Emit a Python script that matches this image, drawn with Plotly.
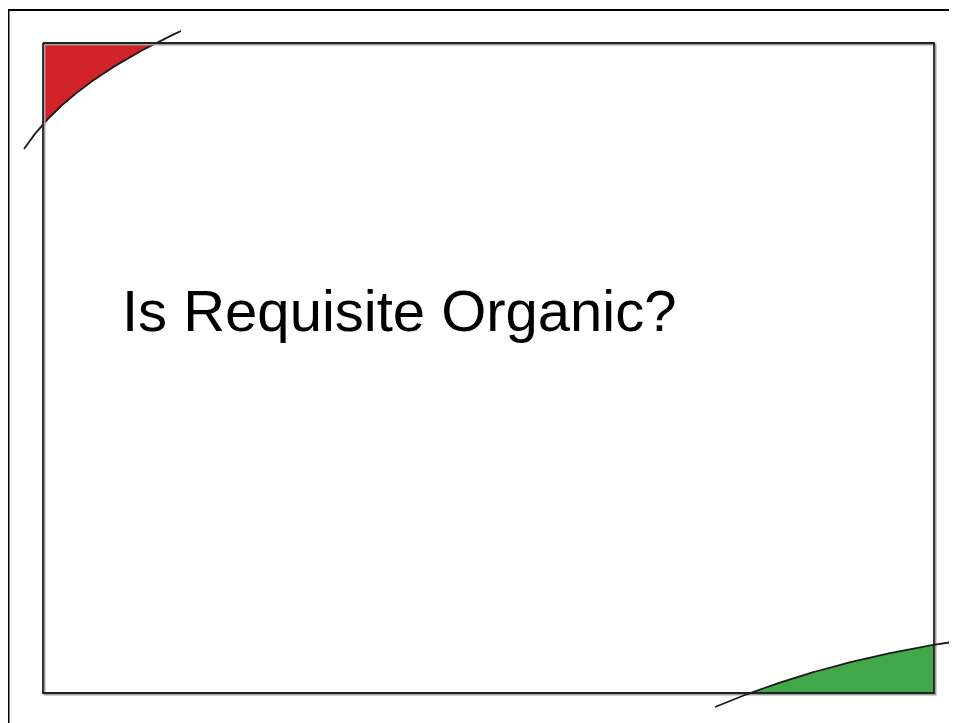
import numpy as np
import plotly.graph_objects as go

# Slide content
title_text = "Is Requisite Organic?"

# Outer frame (open at right/bottom edges of the page)
outer_x = [8.5, 8.5, 980]
outer_y = [740, 10, 10]

# Inner frame rectangle
inner_x = [43, 934, 934, 43, 43]
inner_y = [43, 43, 693, 693, 43]

# Red corner curve (top-left): start, control, end of a quadratic curve
red_curve_x = [24, 67, 181]
red_curve_y = [149, 83, 31]

# Green corner curve (bottom-right)
green_curve_x = [715, 822.5, 952]
green_curve_y = [707, 661.5, 642]

RED = "#D2232A"
GREEN = "#41A84A"

PAGE_OFFSET = 8  # browser body margin


def bezier(px, py, n=400):
    t = np.linspace(0, 1, n)
    x = (1 - t) ** 2 * px[0] + 2 * (1 - t) * t * px[1] + t ** 2 * px[2]
    y = (1 - t) ** 2 * py[0] + 2 * (1 - t) * t * py[1] + t ** 2 * py[2]
    return x, y


fig = go.Figure()

# red fill
bx, by = bezier(red_curve_x, red_curve_y)
m = (bx >= inner_x[0]) & (by >= inner_y[0])
rx = [inner_x[0]] + list(bx[m]) + [inner_x[0]]
ry = [inner_y[0]] + list(by[m]) + [inner_y[0]]
fig.add_trace(go.Scatter(x=rx, y=ry, mode="lines", fill="toself", fillcolor=RED,
                         line=dict(width=0, color=RED), hoverinfo="skip"))
fig.add_trace(go.Scatter(x=bx, y=by, mode="lines",
                         line=dict(width=1.8, color="#1a1a1a"), hoverinfo="skip"))

# green fill
gx_, gy_ = bezier(green_curve_x, green_curve_y)
m = (gx_ <= inner_x[1]) & (gy_ <= inner_y[2])
gx = [inner_x[1]] + list(gx_[m]) + [inner_x[1]]
gy = [inner_y[2]] + list(gy_[m]) + [inner_y[2]]
fig.add_trace(go.Scatter(x=gx, y=gy, mode="lines", fill="toself", fillcolor=GREEN,
                         line=dict(width=0, color=GREEN), hoverinfo="skip"))

# inner frame shadow + line
fig.add_trace(go.Scatter(x=[v + 1.5 for v in inner_x], y=[v + 1.5 for v in inner_y], mode="lines",
                         line=dict(width=2, color="#a0a0a0"), hoverinfo="skip"))
fig.add_trace(go.Scatter(x=inner_x, y=inner_y, mode="lines",
                         line=dict(width=1.8, color="#222222"), hoverinfo="skip"))

fig.add_trace(go.Scatter(x=gx_, y=gy_, mode="lines",
                         line=dict(width=1.8, color="#1a1a1a"), hoverinfo="skip"))

# outer frame
fig.add_trace(go.Scatter(x=outer_x, y=outer_y, mode="lines",
                         line=dict(width=2, color="#000000"), hoverinfo="skip"))

fig.add_annotation(x=120, y=310.5, xref="x", yref="y", text=title_text, showarrow=False,
                   xanchor="left", yanchor="middle",
                   font=dict(family="Liberation Sans, Arial, sans-serif", size=58, color="#000000"))

W, H = 957, 723
fig.update_layout(
    width=W - PAGE_OFFSET, height=H - PAGE_OFFSET,
    margin=dict(l=0, r=0, t=0, b=0),
    paper_bgcolor="white", plot_bgcolor="white",
    showlegend=False,
    xaxis=dict(range=[PAGE_OFFSET, W], visible=False, fixedrange=True),
    yaxis=dict(range=[H, PAGE_OFFSET], visible=False, fixedrange=True),
)

fig.write_html("out.html")
